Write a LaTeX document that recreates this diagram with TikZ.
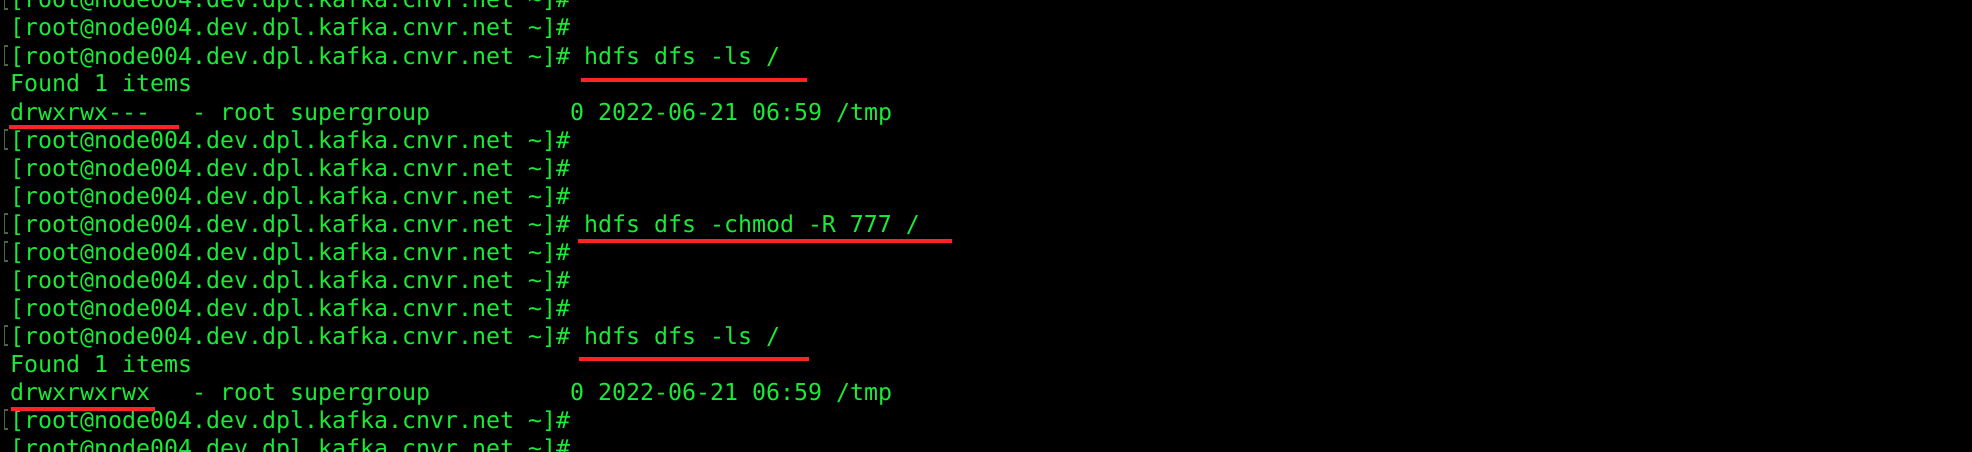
\documentclass[tikz,border=0pt]{standalone}
\usepackage{fontspec}
\newfontfamily\termfont{DejaVu Sans Mono}
\definecolor{termgreen}{RGB}{25,235,55}
\definecolor{markgrey}{RGB}{70,100,70}
\definecolor{penred}{RGB}{255,35,35}
\newcommand{\rootprompt}{[root@node004.dev.dpl.kafka.cnvr.net\ \textasciitilde]\#}
\begin{document}
\begin{tikzpicture}[x=1pt,y=-1pt,
    termline/.style={anchor=base west,inner sep=0pt,text=termgreen,
      font=\termfont\fontsize{23.25}{28}\selectfont},
    linemark/.style={draw=markgrey,line width=1.6pt},
    redmark/.style={draw=penred,line width=4.5pt}]
  % pozadie
  \fill[black] (0,0) rectangle (1972,452);
  \useasboundingbox (0,0) rectangle (1972,452);
  % riadky terminalu
  \node[termline] (l0) at (10,8) {\rootprompt};
  \node[termline] (l1) at (10,36) {\rootprompt};
  \node[termline] (l2) at (10,64) {\rootprompt\ hdfs\ dfs\ -ls\ /};
  \node[termline] (l3) at (10,92) {Found\ 1\ items};
  \node[termline] (l4) at (10,120) {drwxrwx{-}{-}{-}\ \ \ -\ root\ supergroup\ \ \ \ \ \ \ \ \ \ 0\ 2022-06-21\ 06:59\ /tmp};
  \node[termline] (l5) at (10,148) {\rootprompt};
  \node[termline] (l6) at (10,176) {\rootprompt};
  \node[termline] (l7) at (10,204) {\rootprompt};
  \node[termline] (l8) at (10,232) {\rootprompt\ hdfs\ dfs\ -chmod\ -R\ 777\ /};
  \node[termline] (l9) at (10,260) {\rootprompt};
  \node[termline] (l10) at (10,288) {\rootprompt};
  \node[termline] (l11) at (10,316) {\rootprompt};
  \node[termline] (l12) at (10,344) {\rootprompt\ hdfs\ dfs\ -ls\ /};
  \node[termline] (l13) at (10,372) {Found\ 1\ items};
  \node[termline] (l14) at (10,400) {drwxrwxrwx\ \ \ -\ root\ supergroup\ \ \ \ \ \ \ \ \ \ 0\ 2022-06-21\ 06:59\ /tmp};
  \node[termline] (l15) at (10,428) {\rootprompt};
  \node[termline] (l16) at (10,456) {\rootprompt};
  % sive znacky na okraji
  \foreach \b in {8,64,148,232,260,344,428}
    \draw[linemark] (8,{\b-18}) -- (4.5,{\b-18}) -- (4.5,{\b+1}) -- (8,{\b+1});
  % cervene podciarknutia
  \draw[redmark] (581,80) -- (807,80);
  \draw[redmark] (9,127) -- (179,127);
  \draw[redmark] (578,241) -- (952,241);
  \draw[redmark] (579,359) -- (809,359);
  \draw[redmark] (11,409) -- (155,409);
\end{tikzpicture}
\end{document}
